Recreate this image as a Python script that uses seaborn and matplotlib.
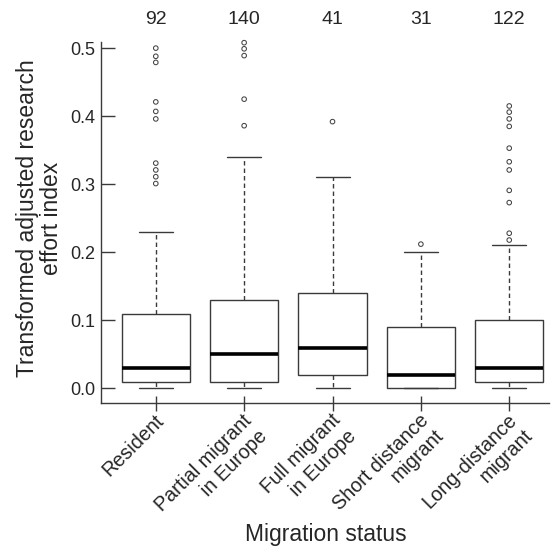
import matplotlib
matplotlib.use("Agg")
import matplotlib.pyplot as plt
import matplotlib.transforms as mtrans
import seaborn as sns
import pandas as pd

# ---- data ----
categories = ["Resident", "Partial migrant\nin Europe", "Full migrant\nin Europe",
              "Short distance\nmigrant", "Long-distance\nmigrant"]
sample_sizes = [92, 140, 41, 31, 122]

# five-number summaries: lower whisker, Q1, median, Q3, upper whisker
resident_box = [0.0, 0.01, 0.03, 0.11, 0.23]
partial_box = [0.0, 0.01, 0.05, 0.13, 0.34]
full_box = [0.0, 0.02, 0.06, 0.14, 0.31]
short_box = [0.0, 0.0, 0.02, 0.09, 0.20]
long_box = [0.0, 0.01, 0.03, 0.10, 0.21]

# outliers
resident_out = [0.500, 0.488, 0.479, 0.421, 0.407, 0.396, 0.331, 0.321, 0.311, 0.301]
partial_out = [0.508, 0.499, 0.489, 0.425, 0.386]
full_out = [0.392]
short_out = [0.212]
long_out = [0.415, 0.406, 0.396, 0.385, 0.353, 0.333, 0.321, 0.291, 0.273, 0.228, 0.218]

yticks = [0.0, 0.1, 0.2, 0.3, 0.4, 0.5]
ytick_labels = ["0.0", "0.1", "0.2", "0.3", "0.4", "0.5"]

boxes = [resident_box, partial_box, full_box, short_box, long_box]
outs = [resident_out, partial_out, full_out, short_out, long_out]

box_df = pd.DataFrame([(c, v) for c, b in zip(categories, boxes) for v in b],
                      columns=["status", "value"])
out_df = pd.DataFrame([(c, v) for c, o in zip(categories, outs) for v in o],
                      columns=["status", "value"])

# ---- style ----
sns.set_style("ticks")
plt.rcParams["font.family"] = ["Liberation Sans", "DejaVu Sans"]

fig = plt.figure(figsize=(5.51, 5.5), dpi=100)
ax = fig.add_axes([101 / 551, 1 - 402.7 / 550, 448 / 551, (402.7 - 42) / 550])

line_c = "#3a3a3a"
sns.boxplot(data=box_df, x="status", y="value", order=categories, ax=ax,
            whis=(0, 100), showfliers=False, width=0.77,
            color="white", linecolor=line_c, linewidth=1.0,
            medianprops=dict(color="black", linewidth=2.6),
            whiskerprops=dict(linestyle=(0, (3.2, 2.2))))

n_before = len(ax.collections)
sns.stripplot(data=out_df, x="status", y="value", order=categories, ax=ax,
              jitter=False, size=3.3, marker="o", color=line_c, linewidth=0.7)
for coll in ax.collections[n_before:]:
    coll.set_facecolor("none")
    coll.set_edgecolor("#444444")
    coll.set_linewidth(0.75)
    coll.set_clip_on(False)

ax.set_xlim(-0.62, 4.45)
ax.set_ylim(-0.021, 0.509)
ax.set_yticks(yticks)
ax.set_yticklabels(ytick_labels, fontsize=13)
ax.set_xticks(range(len(categories)))
ax.set_xticklabels(categories, fontsize=14.2, rotation=45, ha="right", va="top",
                   rotation_mode="anchor", multialignment="right")
ax.tick_params(axis="y", direction="in", length=10, width=1.0, color=line_c, pad=4)
ax.tick_params(axis="x", direction="inout", length=10.8, width=1.0, color=line_c, pad=0)
offset = mtrans.ScaledTranslation(-2 / 100, -0.5 / 100, fig.dpi_scale_trans)
for lbl in ax.get_xticklabels():
    lbl.set_transform(lbl.get_transform() + offset)

for sp in ["top", "right"]:
    ax.spines[sp].set_visible(False)
for sp in ["left", "bottom"]:
    ax.spines[sp].set_color(line_c)
    ax.spines[sp].set_linewidth(1.0)

ax.set_xlabel("")
ax.set_ylabel("")
fig.text(39.5 / 551, 1 - 218.5 / 550, "Transformed adjusted research\neffort index",
         rotation=90, ha="center", va="center", fontsize=16.5, multialignment="center",
         linespacing=1.05)
fig.text(325.5 / 551, 1 - 535 / 550, "Migration status", ha="center", va="center",
         fontsize=16.5)

trans = mtrans.blended_transform_factory(ax.transData, fig.transFigure)
for i, n in enumerate(sample_sizes):
    ax.text(i, 1 - 20 / 550, str(n), transform=trans, ha="center", va="center",
            fontsize=14)

fig.savefig("out.png", dpi=100)
